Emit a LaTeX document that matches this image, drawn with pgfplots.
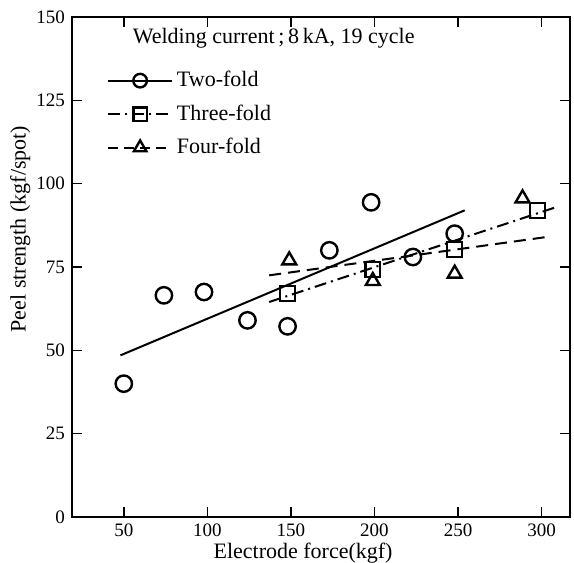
\documentclass[border=0pt]{standalone}
\usepackage{pgfplots}
\pgfplotsset{compat=1.18}
\usepackage{fontspec}
\setmainfont{Liberation Serif}

\begin{document}
\begin{tikzpicture}
\begin{axis}[
    scale only axis,
    width=249pt, height=250pt,
    xmin=19, xmax=317,
    ymin=0, ymax=150,
    xtick={50,100,...,300},
    ytick={0,25,...,150},
    tick align=inside,
    tick pos=both,
    ticklabel pos=left,
    major tick length=5pt,
    axis line style={line width=0.9pt},
    every tick/.style={black, line width=0.8pt},
    tick label style={font=\fontsize{9.5}{10}\selectfont},
    /pgf/number format/assume math mode=true,
    xlabel={Electrode force(kgf)},
    ylabel={Peel strength (kgf/spot)},
    label style={font=\fontsize{11}{13}\selectfont},
    xlabel style={at={(axis description cs:0.464,-0.072)}, anchor=center},
    ylabel style={at={(axis description cs:-0.104,0.576)}, anchor=center},
    legend style={
      at={(axis description cs:0.07,0.9)},
      anchor=north west,
      draw=none, fill=none,
      font=\fontsize{11}{13}\selectfont,
      row sep=3.5pt,
      inner sep=0pt
    },
    legend cell align=left,
    legend image code/.code={
      \draw[mark repeat=2, mark phase=2, #1]
        plot coordinates {(0cm,0cm) (0.56cm,0cm) (1.12cm,0cm)};
    },
]
% legend entries (line + marker in the middle)
\addlegendimage{black, line width=1pt, mark=o, mark size=3.4pt, mark options={solid, line width=1.2pt}}
\addlegendentry{Two-fold}
\addlegendimage{black, line width=1pt, dash pattern=on 6pt off 2.5pt on 1pt off 2.5pt, mark=square, mark size=3.3pt, mark options={solid, line width=1.2pt}}
\addlegendentry{Three-fold}
\addlegendimage{black, line width=1pt, dash pattern=on 5pt off 3pt, mark=triangle, mark size=3.6pt, mark options={solid, line width=1.2pt}}
\addlegendentry{Four-fold}

% regression lines
\addplot[black, line width=1pt, forget plot] coordinates {(48,48.5) (254,92)};
\addplot[black, line width=1pt, dash pattern=on 6pt off 2.5pt on 1pt off 2.5pt, forget plot]
  coordinates {(137,64.5) (309,93)};
\addplot[black, line width=1pt, dash pattern=on 6pt off 3.5pt, forget plot]
  coordinates {(137,72.5) (303,84)};

% measured points
\addplot[only marks, mark=o, mark size=4.1pt, mark options={black, fill=white, line width=1.2pt}, forget plot]
coordinates {
(50,40) (74,66.5) (98,67.5) (124,59) (148,57.2)
(173,80) (198,94.4) (223,78) (248,85)
};
\addplot[only marks, mark=square, mark size=3.7pt, mark options={black, fill=white, line width=1.2pt}, forget plot]
coordinates {
(148,67) (199,74.3) (248,80.3) (297.6,92)
};
\addplot[only marks, mark=triangle, mark size=4pt, mark options={black, fill=white, line width=1.2pt}, forget plot]
coordinates {
(149,77) (199,70.8) (248,73) (288.6,95.6)
};

\node[anchor=west, font=\fontsize{11}{13}\selectfont]
  at (axis description cs:0.108,0.958) {Welding current\,;\,8\,kA, 19 cycle};
\end{axis}
\pgfresetboundingbox
\path ([shift={(-36pt,-23pt)}]current axis.south west)
  rectangle ([shift={(2pt,8.5pt)}]current axis.north east);
\end{tikzpicture}
\end{document}
